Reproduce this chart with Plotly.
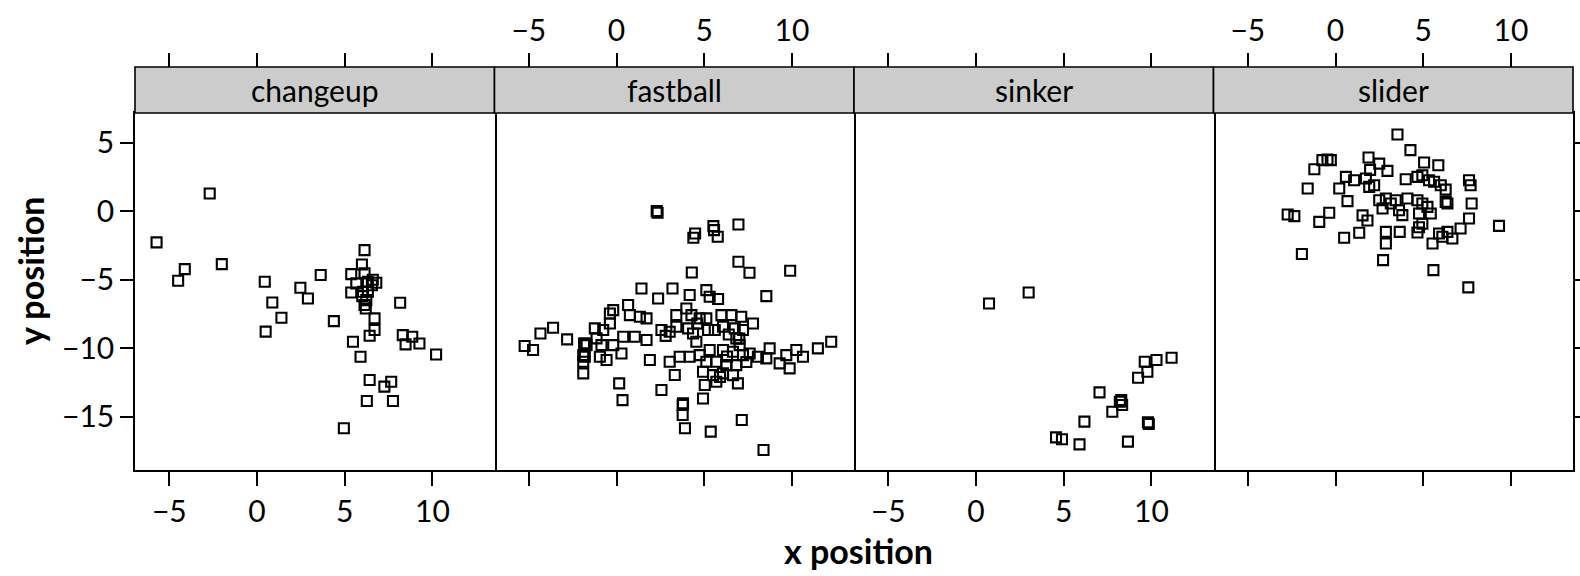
import plotly.graph_objects as go

# ---------------- data ----------------
panels = ["changeup", "fastball", "sinker", "slider"]

changeup_x = [-2.70, -5.73, -4.12, -4.50, -2.01, 0.44, 0.87, 1.39, 0.49, 2.47, 2.90, 3.63, 4.38,
              5.37, 5.37, 5.66, 6.13, 5.98, 6.13, 6.32, 6.80, 6.04, 6.23, 6.13, 6.32, 6.70, 6.70,
              6.42, 5.47, 5.90, 8.16, 8.31, 8.85, 9.26, 8.47, 10.21, 6.42, 7.65, 7.26, 6.26, 7.75,
              4.95, 6.55, 6.00, 6.20, 6.60]
changeup_y = [1.29, -2.28, -4.23, -5.08, -3.86, -5.15, -6.66, -7.77, -8.79, -5.59, -6.37, -4.66, -8.02,
              -4.59, -5.93, -5.27, -2.84, -3.89, -4.54, -5.15, -5.22, -5.88, -6.49, -6.85, -5.88, -7.82, -8.67,
              -9.09, -9.52, -10.62, -6.68, -9.04, -9.16, -9.65, -9.72, -10.45, -12.32, -12.44, -12.80, -13.85, -13.85,
              -15.84, -5.40, -6.20, -7.10, -5.00]

fastball_x = [1.42, 2.37, 3.19, 4.17, 5.12, 5.31, 5.79, 8.54, -0.19, 0.66, 0.76, 1.33, 1.71, -0.38,
              -0.76, -1.24, -1.14, -0.86, -0.19, 0.28, -1.81, -1.90, -1.90, -1.90, -0.57, 0.38, 1.04,
              1.71, 1.90, 2.56, 3.03, 3.41, 3.03, 3.60, 3.32, 2.56, 0.15, 0.34, 3.79, 4.93, 3.41,
              3.98, 4.27, 4.74, 5.12, 4.08, 4.36, 4.55, 5.22, 5.60, 5.98, 6.55, 7.11, 7.78, 6.07,
              6.74, 7.21, 6.83, 7.02, 5.31, 6.07, 6.64, 7.21, 4.17, 4.74, 5.12, 5.69, 6.26, 6.83,
              4.93, 5.50, 6.07, 6.64, 6.92, 7.59, 8.06, 8.54, 8.73, 9.30, 9.87, 9.68, 10.25, 10.63,
              11.48, 12.24, 5.03, 5.69, -1.71, 2.29, 2.34, 4.48, 4.38, 5.52, 5.56, 5.77, 6.95, 6.95,
              7.58, 9.90, 4.29, -5.24, -4.76, -4.34, -3.62, -2.82, -1.85, 3.77, 3.77, 3.90, 5.37,
              7.14, 8.38, -0.95, -1.81, -0.38, 6.40, 7.00, 4.60, 5.90, 2.80, 6.30, 7.40]
fastball_y = [-5.64, -6.37, -5.64, -6.12, -5.76, -6.24, -6.41, -6.20, -7.22, -6.85, -7.58, -7.70, -7.82, -8.19,
              -8.67, -8.55, -9.28, -9.77, -9.77, -10.38, -9.65, -10.50, -10.98, -11.83, -10.86, -9.16, -9.16,
              -9.40, -10.86, -8.67, -8.80, -8.43, -10.98, -10.62, -11.95, -13.05, -12.56, -13.78, -14.02, -13.66, -7.58,
              -7.10, -7.58, -7.82, -7.82, -8.55, -8.92, -9.53, -8.67, -8.67, -7.58, -7.58, -7.70, -8.19, -8.43,
              -8.55, -8.67, -9.28, -9.77, -10.13, -10.13, -10.25, -10.50, -10.62, -10.50, -10.98, -10.98, -11.23, -11.23,
              -11.71, -11.96, -11.83, -11.96, -12.56, -10.38, -10.62, -10.74, -10.01, -11.10, -11.47, -10.50, -10.13, -10.62,
              -10.01, -9.53, -12.68, -12.44, -9.77, 0.00, -0.12, -1.63, -1.94, -1.09, -1.38, -1.87, -0.97, -3.69,
              -4.49, -4.35, -4.47, -9.84, -10.13, -8.92, -8.50, -9.35, -9.65, -14.14, -14.87, -15.84, -16.08,
              -15.23, -17.42, -10.62, -10.62, -7.46, -9.00, -9.30, -8.20, -12.10, -9.10, -10.60, -11.00]

sinker_x = [0.74, 3.00, 11.15, 10.29, 9.62, 9.77, 9.24, 7.04, 8.28, 8.33, 8.20, 7.77, 6.18, 9.85,
            4.56, 4.90, 5.90, 8.66, 9.80]
sinker_y = [-6.73, -5.93, -10.69, -10.86, -10.98, -11.71, -12.15, -13.22, -13.78, -14.14, -13.90, -14.63,
            -15.35, -15.52, -16.50, -16.64, -17.01, -16.81, -15.40]

slider_x = [3.53, 4.27, -0.46, -0.75, -0.27, -1.21, -1.59, 1.88, 2.49, 1.97, 2.96, 5.05, 5.86, 0.59,
            1.06, 0.21, 0.68, 1.73, 1.92, 2.20, 4.00, 4.67, 4.95, 5.33, 5.62, 6.00, 6.28, 7.61, 7.70,
            7.76, 7.61, 7.13, 9.32, -2.73, -2.35, -0.36, -0.93, 0.49, 1.35, 1.54, 1.82, 2.49, 2.87,
            3.15, 2.68, 3.43, 3.62, 3.81, 4.10, 4.67, 4.95, 5.24, 4.76, 5.43, 6.28, 6.38, 2.87, 2.87,
            3.66, 4.67, 4.95, 4.76, 5.53, 5.90, 6.09, 6.38, 6.66, 2.71, -1.92, 5.58, 7.57]
slider_y = [5.59, 4.45, 3.77, 3.72, 3.72, 3.06, 1.65, 3.91, 3.47, 3.01, 2.94, 3.55, 3.35, 2.50,
            2.26, 1.65, 0.73, 2.38, 1.77, 1.89, 2.33, 2.50, 2.62, 2.26, 2.14, 1.89, 1.57, 2.26, 1.89,
            0.56, -0.53, -1.26, -1.07, -0.24, -0.36, -0.12, -0.78, -1.94, -1.58, -0.31, -0.68, 0.80, 0.92,
            0.56, 0.19, 0.80, 0.07, -0.29, 0.92, 0.80, 0.56, 0.31, -0.17, -0.17, 0.68, 0.56, -1.51, -2.36,
            -1.51, -1.56, -0.92, -1.17, -2.36, -1.63, -1.87, -1.51, -1.99, -3.57, -3.13, -4.30, -5.56]

xs = [changeup_x, fastball_x, sinker_x, slider_x]
ys = [changeup_y, fastball_y, sinker_y, slider_y]

x_ticks = [-5, 0, 5, 10]
x_tick_labels = ["\u22125", "0", "5", "10"]
y_ticks = [5, 0, -5, -10, -15]
y_tick_labels = ["5", "0", "\u22125", "\u221210", "\u221215"]
x_range = [-6.96, 13.54]
y_range = [-18.88, 7.16]

# ---------------- figure ----------------
FONT = "Lato, sans-serif"
W, H = 1580, 576
ML, MR, MT, MB = 135, 7, 67, 106
plot_h = H - MT - MB
panel_top_frac = (H - MB - 113) / plot_h
LW = 1.6
TICKSIZE = 30

fig = go.Figure()
for i in range(4):
    n = i + 1
    fig.add_trace(go.Scatter(
        x=xs[i], y=ys[i], mode="markers",
        xaxis="x" if n == 1 else f"x{n}", yaxis="y" if n == 1 else f"y{n}",
        marker=dict(symbol="square-open", size=10, color="black", line=dict(width=2.1, color="black")),
        showlegend=False, hoverinfo="x+y"))
    # empty helper traces for the top axes
    fig.add_trace(go.Scatter(x=[], y=[], mode="markers", xaxis=f"x{n+4}",
                             yaxis="y" if n == 1 else f"y{n}", showlegend=False))

layout = dict(
    width=W, height=H, margin=dict(l=ML, r=MR, t=MT, b=MB, autoexpand=False),
    paper_bgcolor="white", plot_bgcolor="white",
    font=dict(family=FONT, size=TICKSIZE, color="black"),
    shapes=[], annotations=[],
)

for i in range(4):
    n = i + 1
    dom = [i / 4, (i + 1) / 4]
    xk = "xaxis" if n == 1 else f"xaxis{n}"
    yk = "yaxis" if n == 1 else f"yaxis{n}"
    layout[xk] = dict(
        domain=dom, anchor="y" if n == 1 else f"y{n}", range=x_range,
        tickmode="array", tickvals=x_ticks, ticktext=x_tick_labels,
        ticks="outside", ticklen=14, tickwidth=LW, tickcolor="black",
        showticklabels=(n in (1, 3)), automargin=False,
        tickfont=dict(family=FONT, size=TICKSIZE, color="black"),
        showline=True, linewidth=LW, linecolor="black", mirror=True,
        showgrid=False, zeroline=False, fixedrange=True,
    )
    ydict = dict(
        domain=[0, panel_top_frac], anchor="x" if n == 1 else f"x{n}", range=y_range,
        tickmode="array", tickvals=y_ticks, ticktext=y_tick_labels, automargin=False,
        tickfont=dict(family=FONT, size=TICKSIZE, color="black"),
        showline=True, linewidth=LW, linecolor="black",
        showgrid=False, zeroline=False, fixedrange=True,
    )
    if n == 1:
        ydict.update(ticks="outside", ticklen=13, tickwidth=LW, tickcolor="black",
                     showticklabels=True, mirror=True)
    elif n == 4:
        ydict.update(side="right", ticks="outside", ticklen=13, tickwidth=LW, tickcolor="black",
                     showticklabels=False)
    else:
        ydict.update(side="right", ticks="", showticklabels=False)
    layout[yk] = ydict
    # top axis (above the strip)
    layout[f"xaxis{n+4}"] = dict(
        overlaying="x" if n == 1 else f"x{n}", side="top", anchor="free", position=1,
        range=x_range, tickmode="array", tickvals=x_ticks, ticktext=x_tick_labels,
        ticks="outside", ticklen=14, tickwidth=LW, tickcolor="black", automargin=False,
        tickfont=dict(family=FONT, size=TICKSIZE, color="black"),
        showticklabels=(n in (2, 4)), showline=False, showgrid=False, zeroline=False,
        fixedrange=True,
    )
    # strip
    layout["shapes"].append(dict(
        type="rect", xref="paper", yref="paper", x0=dom[0], x1=dom[1],
        y0=panel_top_frac, y1=1, fillcolor="#CCCCCC", line=dict(color="black", width=LW),
        layer="above"))
    layout["annotations"].append(dict(
        text=panels[i], xref="paper", yref="paper", x=(dom[0] + dom[1]) / 2,
        y=(panel_top_frac + 1) / 2, xanchor="center", yanchor="middle", showarrow=False,
        font=dict(family=FONT, size=TICKSIZE, color="black")))

plot_w = W - ML - MR
layout["annotations"].append(dict(
    text="<b>x position</b>", xref="paper", yref="paper",
    x=(858 - ML) / plot_w, y=((H - MB) - 550) / plot_h,
    xanchor="center", yanchor="middle", showarrow=False,
    font=dict(family=FONT, size=34, color="black")))
layout["annotations"].append(dict(
    text="<b>y position</b>", xref="paper", yref="paper",
    x=(30 - ML) / plot_w, y=((H - MB) - 271) / plot_h, textangle=-90,
    xanchor="center", yanchor="middle", showarrow=False,
    font=dict(family=FONT, size=34, color="black")))

fig.update_layout(**layout)
fig.write_html("out.html", config={"displayModeBar": False},
               post_script="document.body.style.margin='0';")
